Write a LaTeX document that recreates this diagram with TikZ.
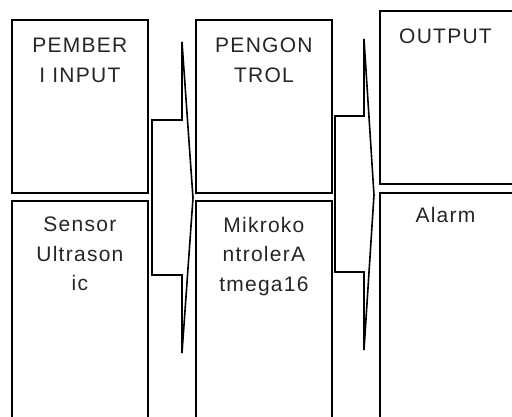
\documentclass[tikz,border=0pt]{standalone}
\usepackage{fontspec}
\setmainfont{Liberation Sans}[LetterSpace=6]
\begin{document}
\begin{tikzpicture}[x=1pt,y=-1pt,
  box/.style={draw=black,line width=1.8pt,fill=white,rectangle,inner sep=0pt,anchor=north west},
  lbl/.style={anchor=north,inner sep=0pt,align=center,text=black!85,
    font=\fontsize{21}{29.5}\selectfont},
  flow/.style={draw=black,line width=1.6pt,line join=miter,fill=white}]
\useasboundingbox (0,0) rectangle (512,417);
\clip (0,0) rectangle (512,417);
% left column: input stage
\node[box,minimum width=136pt,minimum height=173pt] (b1) at (11,19) {};
\node[box,minimum width=136pt,minimum height=240pt] (b2) at (11,200) {};
% middle column: controller
\node[box,minimum width=136pt,minimum height=173pt] (b3) at (195,19) {};
\node[box,minimum width=136pt,minimum height=240pt] (b4) at (195,200) {};
% right column: output stage
\node[box,minimum width=150pt,minimum height=173pt] (b5) at (379,10) {};
\node[box,minimum width=150pt,minimum height=240pt] (b6) at (379,192) {};
% captions
\node[lbl] (t1) at ([yshift=-19pt]b1.north) {PEMBER\\I INPUT};
\node[lbl] (t2) at ([yshift=-17pt]b2.north) {Sensor\\Ultrason\\ic};
\node[lbl] (t3) at ([yshift=-19pt]b3.north) {PENGON\\TROL};
\node[lbl] (t4) at ([yshift=-17pt]b4.north) {Mikroko\\ntrolerA\\tmega16};
\node[lbl] (t5) at (445.5,29) {OUTPUT};
\node[lbl] (t6) at (445.5,207) {Alarm};
% block arrows between the columns
\draw[flow] (152,120) -- (182,120) -- (182,42) -- (193,198) -- (182,353)
  -- (182,275) -- (152,275) -- cycle;
\draw[flow] (335,116) -- (364,116) -- (364,39) -- (374,195) -- (364,350)
  -- (364,272) -- (335,272) -- cycle;
\end{tikzpicture}
\end{document}
